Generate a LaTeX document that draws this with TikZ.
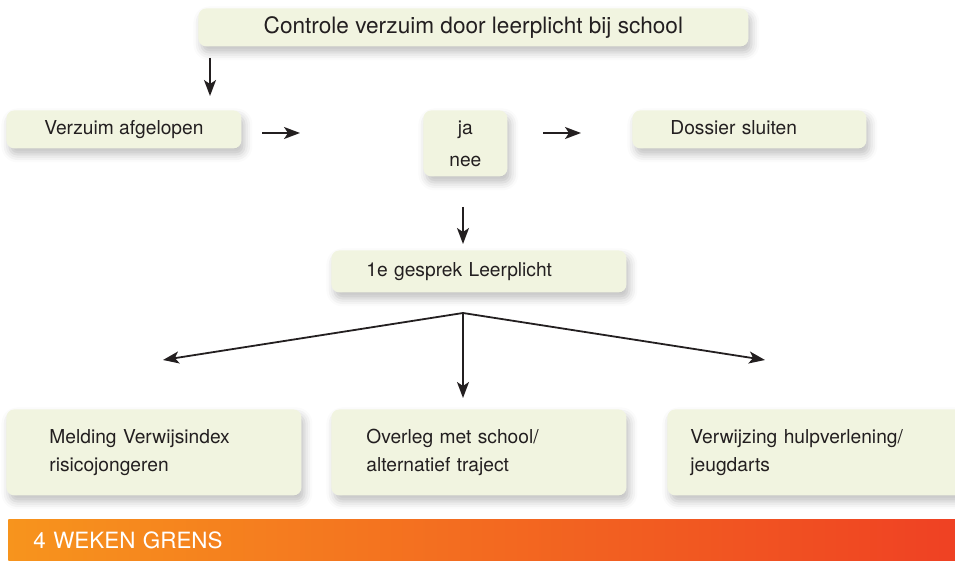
\documentclass[tikz,border=0pt]{standalone}
\usepackage{fontspec}
\setmainfont{TeX Gyre Heros}
\usepackage{tikz}
\usetikzlibrary{arrows.meta,shadows.blur}
\definecolor{boxfill}{HTML}{F1F4E0}
\definecolor{ink}{HTML}{231F20}
\definecolor{barleft}{HTML}{F7941D}
\definecolor{barright}{HTML}{EF4123}
\tikzset{
  box/.style={fill=boxfill, rounded corners=4pt, anchor=north west, text=ink,
    font=\fontsize{9.6}{14}\selectfont, inner ysep=0pt,
    blur shadow={shadow xshift=1.5pt, shadow yshift=-3pt, shadow blur radius=4pt, shadow opacity=25}},
  arrow/.style={draw=ink, line width=0.9pt, -{Stealth[length=8pt,width=6pt,inset=2pt]}},
  bar/.style={left color=barleft, right color=barright, anchor=north west, text=white,
    font=\fontsize{11.2}{13}\selectfont, align=left, inner ysep=0pt}
}

\begin{document}
\begin{tikzpicture}[x=0.5pt, y=-0.5pt]
  \useasboundingbox (0,0) rectangle (955,561);
  \clip (0,0) rectangle (955,561);

  \node[box, minimum width=275pt, minimum height=19pt, font=\fontsize{11.3}{14}\selectfont] (controle) at (198,8) {Controle verzuim door leerplicht bij school};
  \node[box, minimum width=117.5pt, minimum height=19pt] (verzuim) at (6,110) {Verzuim afgelopen};
  \node[box, minimum width=42pt, minimum height=33pt, align=center] (janee) at (423,110) {ja\\[2pt]nee};
  \node[box, text width=79pt, inner xsep=19pt, minimum height=19pt, text depth=2.2pt, align=left] (dossier) at (632,110) {Dossier sluiten};
  \node[box, text width=112.5pt, inner xsep=17.5pt, minimum height=21pt, align=left] (gesprek) at (331,250) {1e gesprek Leerplicht};

  \node[box, text width=104.5pt, inner xsep=21.5pt, minimum height=43pt, align=left] (melding) at (6,409) {Melding Verwijsindex\\risicojongeren};
  \node[box, text width=112.5pt, inner xsep=17.5pt, minimum height=43pt, align=left] (overleg) at (331,409) {Overleg met school/\\alternatief traject};
  \node[box, text width=124.5pt, inner xsep=11.5pt, minimum height=43pt, align=left] (verwijzing) at (667,409) {Verwijzing hulpverlening/\\jeugdarts};

  \node[bar, text width=448.5pt, inner xsep=12.5pt, minimum height=21pt] (grens) at (8,519) {4 WEKEN GRENS};

  \coordinate (c1) at (210,58);
  \coordinate (c2) at (210,96);
  \coordinate (v1) at (262,133);
  \coordinate (v2) at (300,133);
  \coordinate (j1) at (543,133);
  \coordinate (j2) at (581,133);
  \coordinate (n1) at (463,207);
  \coordinate (n2) at (463,244);
  \coordinate (split) at (463,313);
  \coordinate (tipL) at (163,360);
  \coordinate (tipM) at (463,398);
  \coordinate (tipR) at (765,360);

  \draw[arrow] (c1) -- (c2);
  \draw[arrow] (v1) -- (v2);
  \draw[arrow] (j1) -- (j2);
  \draw[arrow] (n1) -- (n2);
  \draw[arrow] (split) -- (tipL);
  \draw[arrow] (split) -- (tipM);
  \draw[arrow] (split) -- (tipR);
\end{tikzpicture}
\end{document}
